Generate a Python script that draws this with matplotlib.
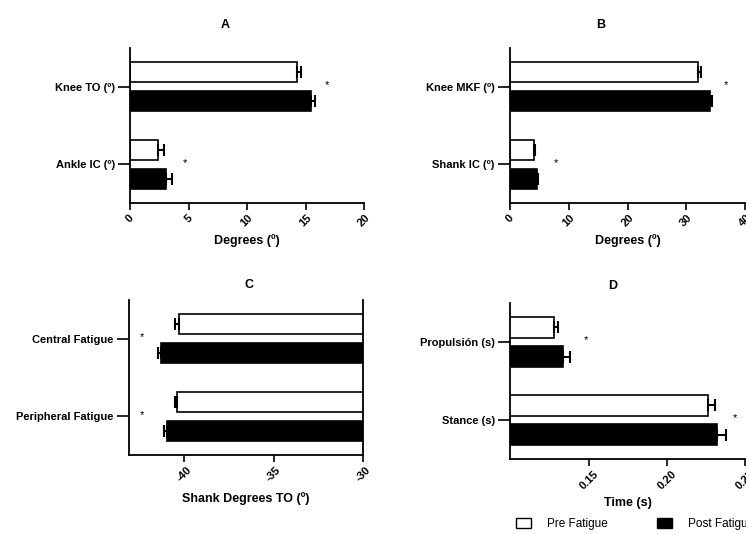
import numpy as np
import matplotlib
matplotlib.use("Agg")
import matplotlib.pyplot as plt
from matplotlib.patches import Patch

plt.rcParams['font.family'] = ['Liberation Sans', 'DejaVu Sans']
plt.rcParams['axes.unicode_minus'] = False

''' data (read from picture) '''
# panel A
a_labels = ["Knee TO (º)", "Ankle IC (º)"]
a_pre = [14.3, 2.4]
a_pre_err = [0.3, 0.5]
a_post = [15.5, 3.1]
a_post_err = [0.3, 0.5]
a_star = [16.8, 4.7]

# panel B
b_labels = ["Knee MKF (º)", "Shank IC (º)"]
b_pre = [32.0, 4.0]
b_pre_err = [0.5, 0.2]
b_post = [34.0, 4.6]
b_post_err = [0.3, 0.2]
b_star = [36.8, 7.9]

# panel C
c_labels = ["Central Fatigue", "Peripheral Fatigue"]
c_pre = [-40.3, -40.4]
c_pre_err = [0.2, 0.15]
c_post = [-41.3, -41.0]
c_post_err = [0.15, 0.15]
c_star = [-42.35, -42.4]

# panel D
d_labels = ["Propulsión (s)", "Stance (s)"]
d_pre = [0.1276, 0.2265]
d_pre_err = [0.0027, 0.0040]
d_post = [0.1335, 0.2323]
d_post_err = [0.0043, 0.0053]
d_star = [0.148, 0.2436]

W, H = 746, 534
fig = plt.figure(figsize=(W / 100, H / 100), dpi=100)


def px_axes(l, r, t, b):
    return fig.add_axes([l / W, 1 - b / H, (r - l) / W, (b - t) / H])


def panel(ax, labels, pre, pre_err, post, post_err, star, xlim, xticks,
          ticklabels, xlabel, negative=False, labelpad=4):
    pos = np.array([1, 0])
    h = 0.26
    off = 0.186
    ax.barh(pos + off, pre, height=h, color='white', edgecolor='black', linewidth=1.2, zorder=2)
    ax.barh(pos - off, post, height=h, color='black', edgecolor='black', linewidth=1.2, zorder=2)
    for vals, errs, y in [(pre, pre_err, pos + off), (post, post_err, pos - off)]:
        errs = np.array(errs)
        if negative:
            xe = [errs, np.zeros_like(errs)]
        else:
            xe = [np.zeros_like(errs), errs]
        ax.errorbar(vals, y, xerr=xe, fmt='none', ecolor='black', elinewidth=1.5,
                    capsize=4, capthick=1.5, zorder=3)
    for x, y in zip(star, pos):
        ax.text(x, y + 0.02, '*', ha='center', va='center', fontsize=8)
    ax.set_xlim(*xlim)
    ax.set_ylim(-0.5, 1.5)
    ax.set_yticks(pos)
    ax.set_yticklabels(labels, fontsize=8, fontweight='bold')
    ax.set_xticks(xticks)
    ax.set_xticklabels(ticklabels, fontsize=8, fontweight='bold', rotation=45, ha='center')
    ax.set_xlabel(xlabel, fontsize=9, fontweight='bold', labelpad=labelpad)
    ax.tick_params(axis='y', length=9, width=1.2, pad=2)
    ax.tick_params(axis='x', length=5, width=1.2, pad=2)
    for s in ['left', 'bottom', 'right']:
        ax.spines[s].set_linewidth(1.3)
    ax.spines['top'].set_visible(False)
    if not negative:
        ax.spines['right'].set_visible(False)


axA = px_axes(130, 364, 48, 203)
panel(axA, a_labels, a_pre, a_pre_err, a_post, a_post_err, a_star,
      (0, 20), [0, 5, 10, 15, 20], ['0', '5', '10', '15', '20'], 'Degrees (º)')

axB = px_axes(510, 745, 48, 203)
panel(axB, b_labels, b_pre, b_pre_err, b_post, b_post_err, b_star,
      (0, 40), [0, 10, 20, 30, 40], ['0', '10', '20', '30', '40'], 'Degrees (º)')

axC = px_axes(129, 363, 300, 455)
panel(axC, c_labels, c_pre, c_pre_err, c_post, c_post_err, c_star,
      (-43.1, -30), [-40, -35, -30], ['-40', '-35', '-30'], 'Shank Degrees TO (º)',
      negative=True, labelpad=6)

axD = px_axes(510, 745, 303, 459)
panel(axD, d_labels, d_pre, d_pre_err, d_post, d_post_err, d_star,
      (0.0995, 0.25), [0.15, 0.20, 0.25], ['0.15', '0.20', '0.25'], 'Time (s)')

fig.text(225 / W, 1 - 25 / H, 'A', fontsize=9, fontweight='bold', ha='center', va='center')
fig.text(601 / W, 1 - 25 / H, 'B', fontsize=9, fontweight='bold', ha='center', va='center')
fig.text(249 / W, 1 - 285 / H, 'C', fontsize=9, fontweight='bold', ha='center', va='center')
fig.text(613 / W, 1 - 286 / H, 'D', fontsize=9, fontweight='bold', ha='center', va='center')

handles = [Patch(facecolor='white', edgecolor='black', linewidth=1.0),
           Patch(facecolor='black', edgecolor='black', linewidth=1.0)]
fig.legend(handles, ['Pre Fatigue', 'Post Fatigue'], loc='center left',
           bbox_to_anchor=(516 / W, 1 - 524 / H), ncol=2, frameon=False,
           fontsize=8.5, handlelength=1.3, handleheight=0.9, handletextpad=1.3,
           columnspacing=4.2, borderpad=0, borderaxespad=0)

fig.savefig("out.png", dpi=100)
